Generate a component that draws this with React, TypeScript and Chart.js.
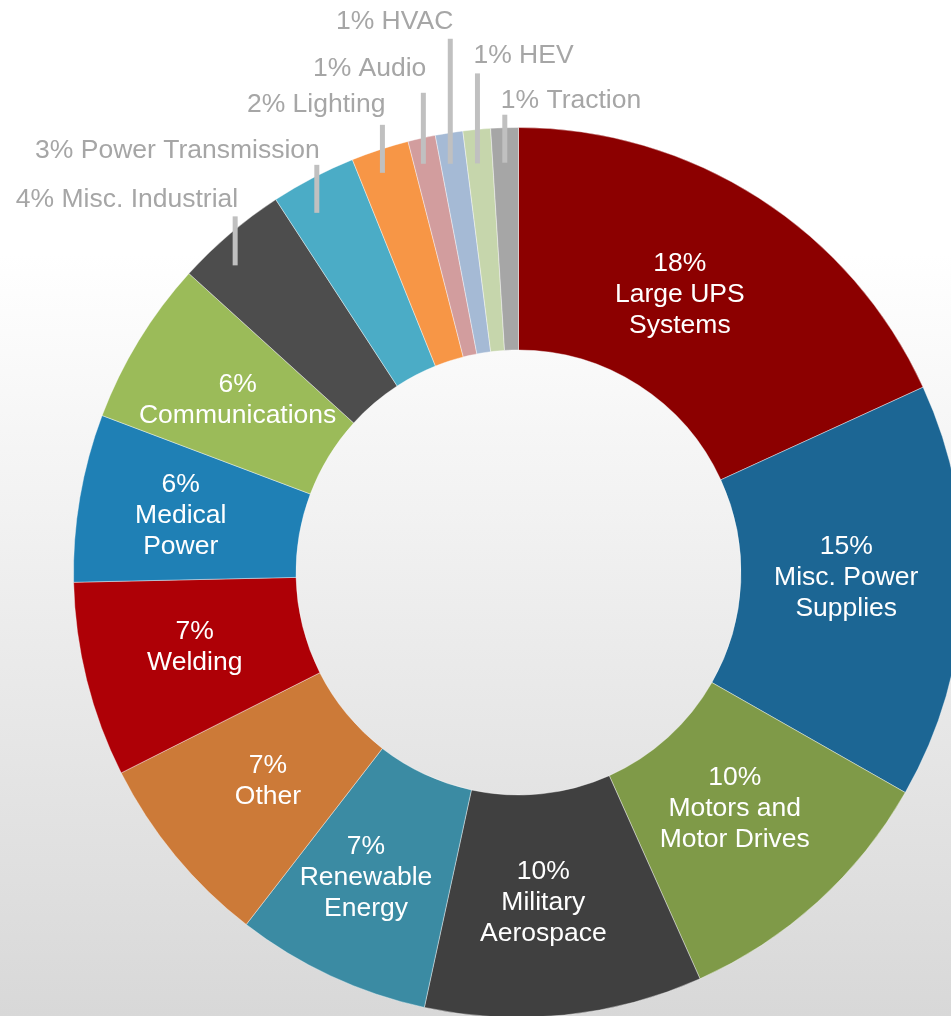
import React, { useEffect, useRef } from "react";
import { Chart, registerables } from "chart.js";

Chart.register(...registerables);

// ---- data ----
const categories = [
  "Large UPS\nSystems",
  "Misc. Power\nSupplies",
  "Motors and\nMotor Drives",
  "Military\nAerospace",
  "Renewable\nEnergy",
  "Other",
  "Welding",
  "Medical\nPower",
  "Communications",
  "Misc. Industrial",
  "Power Transmission",
  "Lighting",
  "Audio",
  "HVAC",
  "HEV",
  "Traction",
];

const shares = [18.2, 15.1, 10.1, 10.1, 7.1, 7.1, 7.1, 6.1, 6.0, 4.1, 3.1, 2.1, 1.0, 1.0, 1.0, 1.0];

const sliceColors = [
  "#8C0000",
  "#1C6694",
  "#7F9A48",
  "#404040",
  "#3B8BA3",
  "#CC7A38",
  "#AE0006",
  "#1F80B5",
  "#9BBB59",
  "#4D4D4D",
  "#4BACC6",
  "#F79646",
  "#D29D9E",
  "#A5BAD5",
  "#C6D6AC",
  "#A6A6A6",
];

// ---- label layout ----
const INNER_LABEL_MIN = 5;
// small nudges for the inside labels, in slice order: angle (degrees) and radius (px)
const innerLabelNudgeDeg = [-2.7, -1.9, -0.5, 1.6, 1.7, 0, 1.4, 0.1, 0.45];
const innerLabelNudgeR = [-11, -6, -15, -5, 6, -9, -2, 9, -3];
const INNER_TEXT_DY = 2;
// call-outs for the small slices, in order: leader drop below rim, rise above rim, text gap
const calloutDrop = [36, 37, 24, 26, 31, 34, 35];
const calloutRise = [13, 11, 24, 45, 94, 56, 13];
const calloutGap = [9, 7, 13, 17, 10, 10, 7];
const calloutAlign: CanvasTextAlign[] = ["right", "right", "right", "right", "right", "left", "left"];

const FONT = '26.5px "Liberation Sans", Arial, sans-serif';
const LINE_H = 31;

const labelPlugin = {
  id: "sliceLabels",
  afterDatasetsDraw(chart: any) {
    const ctx: CanvasRenderingContext2D = chart.ctx;
    const meta = chart.getDatasetMeta(0);
    const data: number[] = chart.data.datasets[0].data;
    const total = data.reduce((a, b) => a + b, 0);
    let k = 0;
    let n = 0;
    ctx.save();
    ctx.font = FONT;
    meta.data.forEach((arc: any, i: number) => {
      const p = arc.getProps(["x", "y", "startAngle", "endAngle", "innerRadius", "outerRadius"], true);
      const pct = Math.round((data[i] / total) * 100);
      const mid = (p.startAngle + p.endAngle) / 2;
      const name = String(chart.data.labels[i]);
      if (data[i] >= INNER_LABEL_MIN) {
        const r = (p.innerRadius + p.outerRadius) / 2 + (innerLabelNudgeR[n] || 0);
        const a = mid + ((innerLabelNudgeDeg[n] || 0) * Math.PI) / 180;
        n++;
        const cx = p.x + r * Math.cos(a);
        const cy = p.y + r * Math.sin(a) + INNER_TEXT_DY;
        const lines = [pct + "%", ...name.split("\n")];
        ctx.fillStyle = "#FFFFFF";
        ctx.textAlign = "center";
        ctx.textBaseline = "middle";
        const y0 = cy - ((lines.length - 1) * LINE_H) / 2;
        lines.forEach((ln, j) => ctx.fillText(ln, cx, y0 + j * LINE_H));
      } else {
        const R = p.outerRadius;
        const lx = p.x + (R - 8) * Math.cos(mid);
        const dx = lx - p.x;
        const rimY = p.y - Math.sqrt(Math.max(R * R - dx * dx, 0));
        const bottom = rimY + calloutDrop[k];
        const top = rimY - calloutRise[k];
        ctx.strokeStyle = "#C0C0C0";
        ctx.lineWidth = 5;
        ctx.lineCap = "butt";
        ctx.beginPath();
        ctx.moveTo(lx, bottom);
        ctx.lineTo(lx, top);
        ctx.stroke();
        ctx.fillStyle = "#A6A6A6";
        ctx.textBaseline = "alphabetic";
        const align = calloutAlign[k];
        ctx.textAlign = align;
        const tx = align === "right" ? lx + 3 : lx - 4;
        ctx.fillText(pct + "% " + name.replace("\n", " "), tx, top - calloutGap[k]);
        k++;
      }
    });
    ctx.restore();
  },
};

export default function App() {
  const canvasRef = useRef<HTMLCanvasElement | null>(null);

  useEffect(() => {
    if (!canvasRef.current) return;
    const chart = new Chart(canvasRef.current, {
      type: "doughnut",
      data: {
        labels: categories,
        datasets: [
          {
            data: shares,
            backgroundColor: sliceColors,
            borderColor: "rgba(255,255,255,0.4)",
            borderWidth: 1,
            hoverOffset: 0,
          },
        ],
      },
      options: {
        responsive: false,
        animation: false,
        cutout: "50%",
        layout: { padding: { left: 73, right: 73, top: 127, bottom: 127 } },
        plugins: {
          legend: { display: false },
          tooltip: { enabled: false },
        },
        events: [],
      },
      plugins: [labelPlugin],
    });
    return () => chart.destroy();
  }, []);

  return (
    <div
      style={{
        position: "fixed",
        left: 0,
        top: 0,
        width: 951,
        height: 1016,
        overflow: "hidden",
        background: "linear-gradient(to bottom, #FFFFFF 0%, #FFFFFF 25%, #D8D8D8 100%)",
      }}
    >
      <canvas ref={canvasRef} width={1037} height={1145} style={{ display: "block", width: 1037, height: 1145 }} />
    </div>
  );
}
